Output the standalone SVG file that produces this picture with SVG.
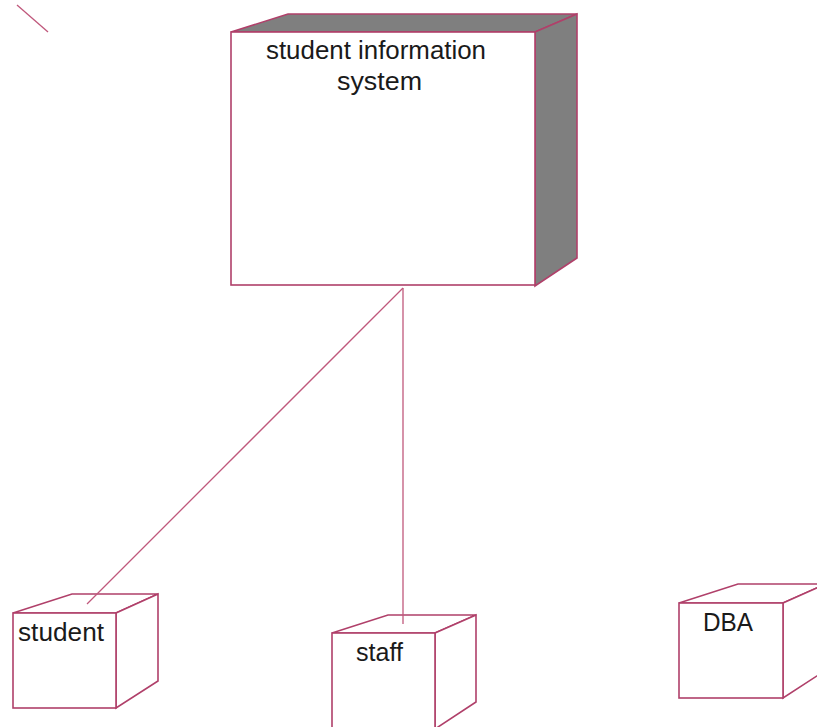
<svg xmlns="http://www.w3.org/2000/svg" width="817" height="727" viewBox="0 0 817 727">
<style>
.face{fill:#ffffff;stroke:#b0406a;stroke-width:1.6}
.shade{fill:#7f7f7f;stroke:#b0406a;stroke-width:1.6}
.conn{fill:none;stroke:#c0587c;stroke-width:1.3}
.lbl{font-family:"Liberation Sans",Arial,sans-serif;font-size:26px;fill:#1a1a1a}
</style>
<rect width="817" height="727" fill="#ffffff"/>
<line x1="17" y1="5" x2="48" y2="32" stroke="#c0587c" stroke-width="1.3"/>
<g id="node-sis">
<polygon class="shade" points="231,32 288,14 577,14 535,32"/>
<polygon class="shade" points="535,32 577,14 577,258 535,286"/>
<rect class="face" x="231" y="32" width="304" height="253"/>
<text class="lbl" x="266" y="59" textLength="220" lengthAdjust="spacingAndGlyphs">student information</text>
<text class="lbl" x="337" y="90" textLength="85" lengthAdjust="spacingAndGlyphs">system</text>
</g>
<g id="node-student">
<polygon class="face" points="13,613 72,594 158,594 116,613"/>
<polygon class="face" points="116,613 158,594 158,681 116,708"/>
<rect class="face" x="13" y="613" width="103" height="95"/>
<text class="lbl" x="18" y="641" textLength="86" lengthAdjust="spacingAndGlyphs">student</text>
</g>
<g id="node-staff">
<polygon class="face" points="332,633 388,615 476,615 435,633"/>
<polygon class="face" points="435,633 476,615 476,702 435,729"/>
<rect class="face" x="332" y="633" width="103" height="96"/>
<text class="lbl" x="356" y="661" textLength="47" lengthAdjust="spacingAndGlyphs">staff</text>
</g>
<g id="node-dba">
<polygon class="face" points="679,603 738,584 826,584 783,603"/>
<polygon class="face" points="783,603 826,584 826,670 783,698"/>
<rect class="face" x="679" y="603" width="104" height="95"/>
<text class="lbl" x="703" y="631" textLength="50" lengthAdjust="spacingAndGlyphs">DBA</text>
</g>
<g id="connectors">
<line class="conn" x1="403" y1="288" x2="87" y2="604"/>
<line class="conn" x1="403" y1="288" x2="403" y2="624"/>
</g>
</svg>
